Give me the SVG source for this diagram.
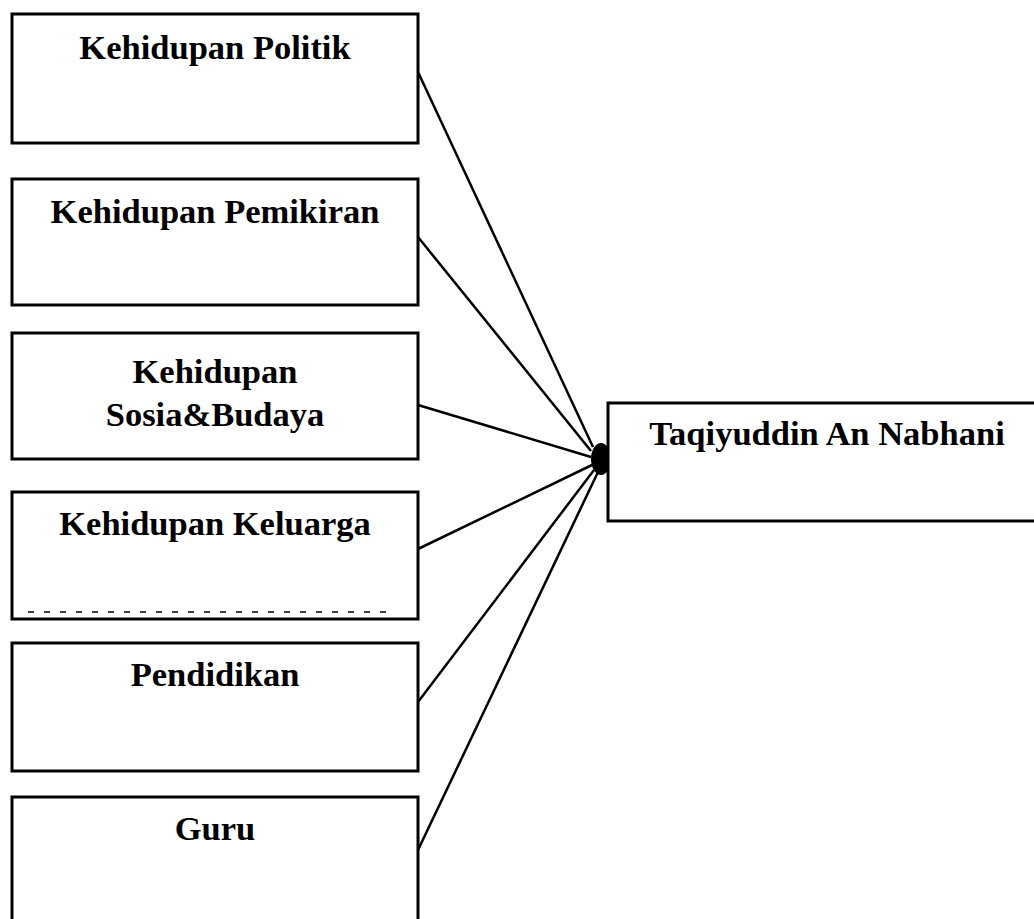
<svg xmlns="http://www.w3.org/2000/svg" width="1034" height="919" viewBox="0 0 1034 919">
<style>
.box{fill:#fff;stroke:#000;stroke-width:3}
.lbl{font-family:"Liberation Serif","Times New Roman",serif;font-weight:bold;font-size:34.5px;fill:#000;text-anchor:middle}
.con{stroke:#000;stroke-width:2.5;fill:none}
</style>
<rect width="1034" height="919" fill="#fff"/>
<g id="connectors">
<line class="con" x1="418" y1="72" x2="593" y2="447"/>
<line class="con" x1="418" y1="237" x2="591" y2="451"/>
<line class="con" x1="418" y1="405" x2="591" y2="457"/>
<line class="con" x1="418" y1="549" x2="592" y2="465"/>
<line class="con" x1="418" y1="702" x2="594" y2="470"/>
<line class="con" x1="418" y1="850" x2="598" y2="472"/>
<ellipse cx="601" cy="459" rx="10" ry="16" fill="#000"/>
</g>
<g id="node-politik">
<rect class="box" x="12" y="14" width="406" height="129"/>
<text class="lbl" x="215" y="59">Kehidupan Politik</text>
</g>
<g id="node-pemikiran">
<rect class="box" x="12" y="179" width="406" height="126"/>
<text class="lbl" x="215" y="223">Kehidupan Pemikiran</text>
</g>
<g id="node-sosial">
<rect class="box" x="12" y="333" width="406" height="126"/>
<text class="lbl" x="215" y="383">Kehidupan</text>
<text class="lbl" x="215" y="426">Sosia&amp;Budaya</text>
</g>
<g id="node-keluarga">
<rect class="box" x="12" y="492" width="406" height="127"/>
<text class="lbl" x="215" y="535">Kehidupan Keluarga</text>
<line x1="28" y1="612" x2="392" y2="612" stroke="#000" stroke-width="1.5" stroke-dasharray="6,10"/>
</g>
<g id="node-pendidikan">
<rect class="box" x="12" y="643" width="406" height="128"/>
<text class="lbl" x="215" y="686">Pendidikan</text>
</g>
<g id="node-guru">
<rect class="box" x="12" y="797" width="406" height="140"/>
<text class="lbl" x="215" y="840">Guru</text>
</g>
<g id="node-taqiyuddin">
<rect class="box" x="608" y="403" width="440" height="118"/>
<text class="lbl" x="827" y="445">Taqiyuddin An Nabhani</text>
</g>
</svg>
